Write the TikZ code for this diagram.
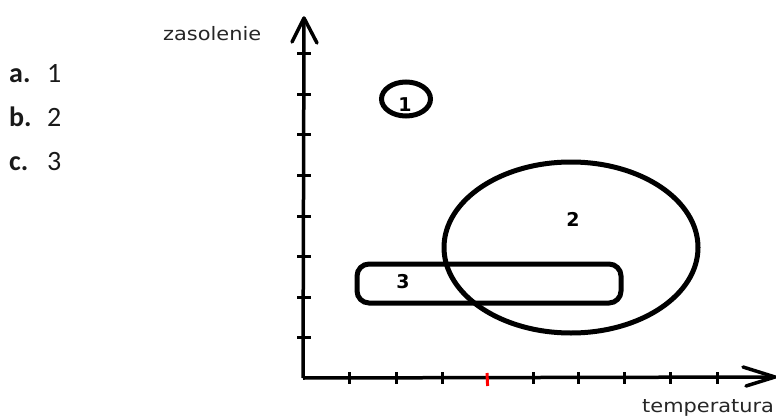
\documentclass[tikz,border=0pt]{standalone}
\usepackage{fontspec}
\setmainfont{Carlito}
\newfontfamily\axfont{DejaVu Sans}
\tikzset{
  axisline/.style={line width=3.5pt, black},
  tickmark/.style={line width=3pt, black},
  region/.style={line width=5pt, black},
  axlabel/.style={font=\axfont\fontsize{18.5}{21}\selectfont, text=black!85, inner sep=0pt, anchor=base west},
  reglabel/.style={font=\axfont\bfseries\fontsize{19}{21}\selectfont, inner sep=0pt},
  optlabel/.style={font=\fontsize{28}{32}\selectfont, text=black!90, inner sep=0pt, anchor=base west},
}
\begin{document}
\begin{tikzpicture}[x=1pt,y=-1pt]
\useasboundingbox (0,0) rectangle (776,417);
% axes
\coordinate (O) at (303,378);
\coordinate (Ytop) at (304,18);
\coordinate (Yl) at (292,42);
\coordinate (Yr) at (317,43);
\coordinate (Xend) at (775,377);
\coordinate (Xu) at (743,367);
\coordinate (Xd) at (746,386);
\draw[axisline] (O) -- (Ytop);
\draw[axisline] (O) -- (Xend);
\draw[axisline, line cap=round, line join=round] (Yl) -- (Ytop) -- (Yr);
\draw[axisline, line cap=round, line join=round] (Xu) -- (Xend) -- (Xd);
% ticks
\foreach \y in {54,94.5,135,175.5,216,256.5,297,337.5}
  \draw[tickmark] (297,\y) -- (311,\y);
\foreach \x in {349,396,442,533,578,624,670,717}
  \draw[tickmark] (\x,372) -- (\x,384);
\draw[tickmark, red] (487,373) -- (487.6,386);
% regions
\draw[region] (406,99) ellipse [x radius=24.5, y radius=17];
\draw[region] (571,247.5) ellipse [x radius=127, y radius=85.5];
\draw[region, rounded corners=12pt] (357,264) rectangle (621,303);
\node[reglabel] (l1) at (405,105) {1};
\node[reglabel] (l2) at (573,219) {2};
\node[reglabel] (l3) at (403,282) {3};
% axis labels
\node[axlabel] (zas) at (163,41) {\scalebox{1.13}[1]{zasolenie}};
\node[axlabel] (temp) at (642,412) {\scalebox{1.13}[1]{temperatura}};
% options
\node[optlabel] (oa) at (9,83) {\textbf{a.}};
\node[optlabel] (va) at (47,83) {1};
\node[optlabel] (ob) at (9,126.5) {\textbf{b.}};
\node[optlabel] (vb) at (47,126.5) {2};
\node[optlabel] (oc) at (9,170) {\textbf{c.}};
\node[optlabel] (vc) at (47,170) {3};
\end{tikzpicture}
\end{document}
